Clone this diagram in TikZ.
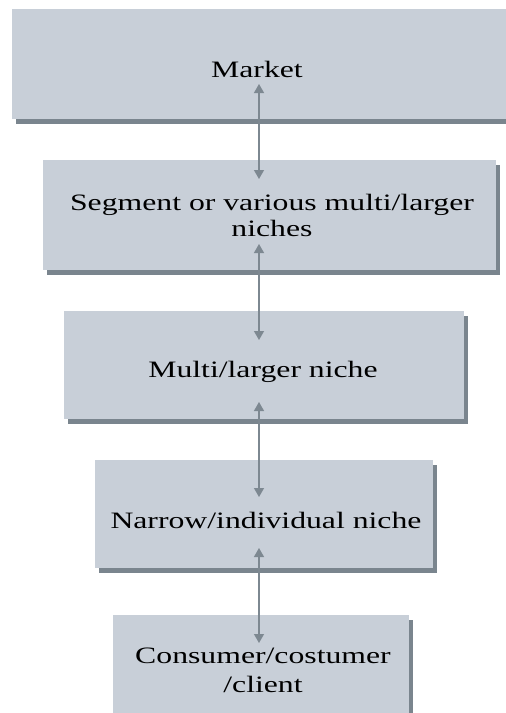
\documentclass[tikz,border=0pt]{standalone}
\usepackage{fontspec}
\setmainfont[FakeStretch=1.35]{Liberation Serif}
\usetikzlibrary{arrows.meta,shadows}
\definecolor{boxfill}{RGB}{200,207,216}
\definecolor{shadowc}{RGB}{122,133,142}
\definecolor{arrowc}{RGB}{125,136,145}
\begin{document}
\begin{tikzpicture}[x=1pt,y=-1pt,
  levelbox/.style={rectangle, fill=boxfill, draw=none, inner sep=0pt,
    drop shadow={shadow xshift=4pt,shadow yshift=-5pt,fill=shadowc,opacity=1}},
  boxtext/.style={font=\fontsize{23.5}{28}\selectfont, align=center, inner sep=0pt, text=black},
  link/.style={draw=arrowc, line width=1.2pt,
    {Triangle[width=10pt,length=9pt]}-{Triangle[width=10pt,length=9pt]}}]
\useasboundingbox (0,0) rectangle (506,713);
% boxes
\node[levelbox, minimum width=500pt, minimum height=110pt] (market) at (262,64) {};
\node[levelbox, minimum width=453pt, minimum height=110pt] (segment) at (269.5,215) {};
\node[levelbox, minimum width=400pt, minimum height=108pt] (multi) at (264,365) {};
\node[levelbox, minimum width=338pt, minimum height=108pt] (narrow) at (264,514) {};
\node[levelbox, minimum width=296pt, minimum height=112pt] (consumer) at (261,671) {};
% texts
\node[boxtext, anchor=base] (marketText) at (257,77) {Market};
\node[boxtext, font=\fontsize{23.5}{26.7}\selectfont, anchor=base] (segmentText) at (272,236.7) {Segment or various multi/larger\\niches};
\node[boxtext, anchor=base] (multiText) at (263,377) {Multi/larger niche};
\node[boxtext, anchor=base] (narrowText) at (266,528) {Narrow/individual niche};
\node[boxtext, font=\fontsize{23.5}{29.4}\selectfont, anchor=base] (consumerText) at (263,692.7) {Consumer/costumer\\/client};
% arrow ends
\coordinate (m1) at (259,84);
\coordinate (s0) at (259,179);
\coordinate (s1) at (259,244);
\coordinate (u0) at (259,340);
\coordinate (u1) at (259,402);
\coordinate (n0) at (259,497);
\coordinate (n1) at (259,548);
\coordinate (c0) at (259,643);
\draw[link] (m1) -- (s0);
\draw[link] (s1) -- (u0);
\draw[link] (u1) -- (n0);
\draw[link] (n1) -- (c0);
\end{tikzpicture}
\end{document}
